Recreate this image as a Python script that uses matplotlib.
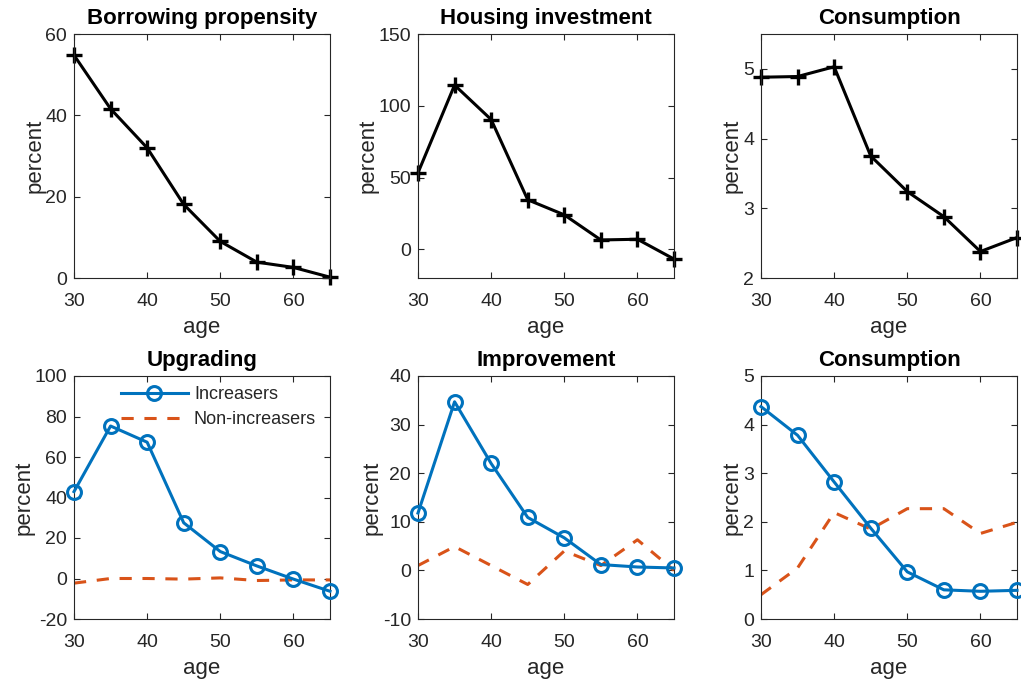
import matplotlib
matplotlib.use("Agg")
import matplotlib.pyplot as plt
import numpy as np

plt.rcParams['font.family'] = ['Liberation Sans', 'DejaVu Sans']
plt.rcParams['axes.unicode_minus'] = False

age = [30, 35, 40, 45, 50, 55, 60, 65]

borrowing = [54.8, 41.6, 32.0, 18.1, 9.0, 3.9, 2.6, 0.2]
housing_inv = [53.3, 114.4, 90.4, 34.5, 24.0, 6.5, 7.0, -6.8]
consumption_top = [4.88, 4.89, 5.03, 3.75, 3.24, 2.88, 2.38, 2.58]

upg_inc = [42.9, 75.3, 67.3, 27.5, 13.3, 6.2, -0.3, -6.3]
upg_non = [-2.3, 0.0, 0.0, -0.3, 0.3, -1.0, -0.7, -0.7]
imp_inc = [11.8, 34.7, 22.0, 10.9, 6.7, 1.2, 0.7, 0.5]
imp_non = [1.0, 4.9, 1.0, -2.9, 4.0, 1.0, 6.3, 0.0]
con_inc = [4.37, 3.78, 2.82, 1.87, 0.97, 0.60, 0.57, 0.59]
con_non = [0.50, 1.05, 2.19, 1.85, 2.27, 2.27, 1.76, 1.99]

top_titles = ["Borrowing propensity", "Housing investment", "Consumption"]
bottom_titles = ["Upgrading", "Improvement", "Consumption"]
top_ylims = [(0, 60), (-20, 150), (2, 5.5)]
top_yticks = [[0, 20, 40, 60], [0, 50, 100, 150], [2, 3, 4, 5]]
bot_ylims = [(-20, 100), (-10, 40), (0, 5)]
bot_yticks = [[-20, 0, 20, 40, 60, 80, 100], [-10, 0, 10, 20, 30, 40], [0, 1, 2, 3, 4, 5]]
xticks = [30, 40, 50, 60]

BLUE = '#0072BD'
ORANGE = '#D95319'
TXT = '#262626'

W, H = 1021, 688
fig = plt.figure(figsize=(W / 100, H / 100), dpi=100)

xs = [74, 418, 761]
wd = 256
rows = [(34, 278), (376, 619)]

def make_ax(x0, y0, y1):
    return fig.add_axes([x0 / W, 1 - y1 / H, wd / W, (y1 - y0) / H])

def style(ax, title, ylim, yticks):
    ax.set_xlim(30, 65)
    ax.set_ylim(*ylim)
    ax.set_xticks(xticks)
    ax.set_yticks(yticks)
    ax.tick_params(direction='in', top=True, right=True, labelsize=14,
                   colors=TXT, length=4, width=0.8)
    ax.tick_params(axis='x', pad=11)
    ax.tick_params(axis='y', pad=5)
    for s in ax.spines.values():
        s.set_color(TXT)
        s.set_linewidth(0.8)
    ax.set_title(title, fontsize=16, fontweight='bold', pad=7)
    ax.set_xlabel('age', fontsize=16, color=TXT, labelpad=5)
    ax.set_ylabel('percent', fontsize=16, color=TXT, labelpad=0)

top_data = [borrowing, housing_inv, consumption_top]
for i in range(3):
    ax = make_ax(xs[i], *rows[0])
    ax.plot(age, top_data[i], color='black', lw=2.2, marker='+', ms=11, mew=2.4,
            clip_on=False)
    style(ax, top_titles[i], top_ylims[i], top_yticks[i])

inc_data = [upg_inc, imp_inc, con_inc]
non_data = [upg_non, imp_non, con_non]
for i in range(3):
    ax = make_ax(xs[i], *rows[1])
    ax.plot(age, inc_data[i], color=BLUE, lw=2.2, marker='o', ms=10, mew=2.2,
            mfc='none', label='Increasers', clip_on=False, zorder=3)
    ax.plot(age, non_data[i], color=ORANGE, lw=2.2, ls=(0, (4, 3.5)),
            label='Non-increasers', zorder=2)
    style(ax, bottom_titles[i], bot_ylims[i], bot_yticks[i])
    if i == 0:
        leg = ax.legend(loc='upper right', bbox_to_anchor=(1 - 14 / wd, 1 - 10 / 243),
                        frameon=False, fontsize=13, handlelength=3.7,
                        handletextpad=0.35, labelspacing=0.47, borderpad=0,
                        borderaxespad=0)
        for t in leg.get_texts():
            t.set_color(TXT)

fig.savefig('out.png', dpi=100)
